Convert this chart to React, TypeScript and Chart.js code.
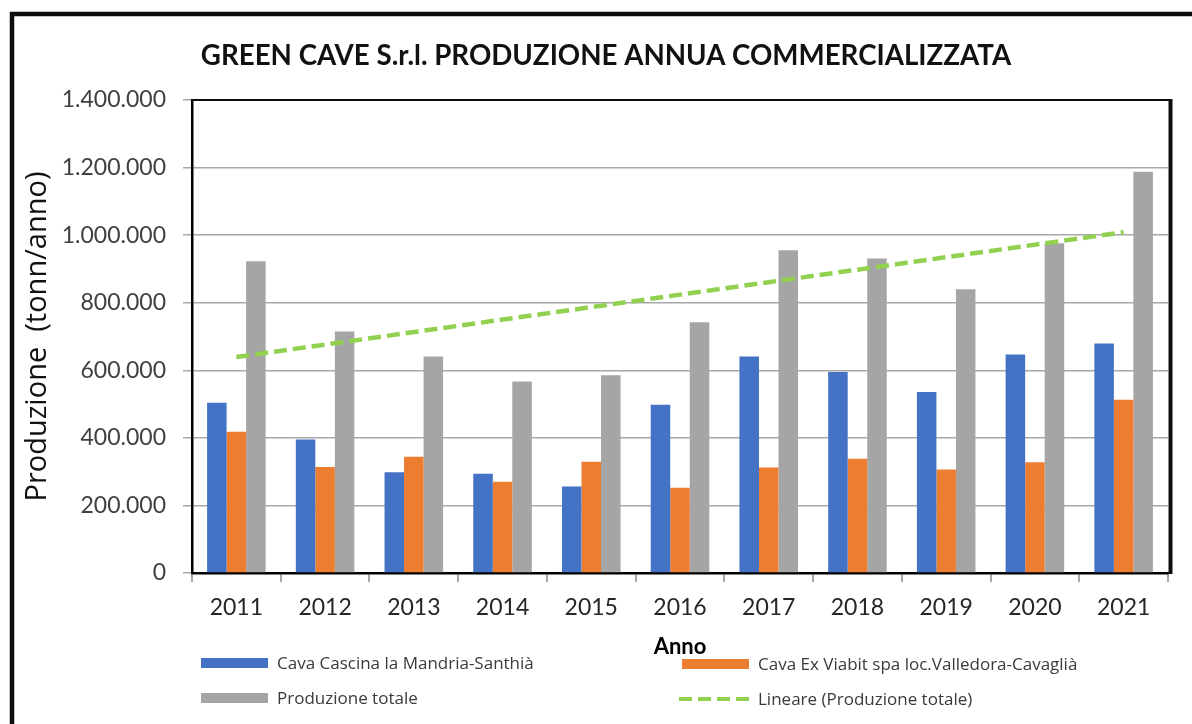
import { useEffect, useRef } from 'react';
import { Chart, registerables } from 'chart.js';

Chart.register(...registerables);

const chartTitle = 'GREEN CAVE S.r.l. PRODUZIONE ANNUA COMMERCIALIZZATA';
const years = ['2011', '2012', '2013', '2014', '2015', '2016', '2017', '2018', '2019', '2020', '2021'];
const seriesNames = [
  'Cava Cascina la Mandria-Santhià',
  'Cava Ex Viabit spa loc.Valledora-Cavaglià',
  'Produzione totale',
  'Lineare (Produzione totale)',
];
const mandria = [504000, 395000, 298000, 294000, 256000, 498000, 641000, 595000, 536000, 647000, 679000];
const viabit = [418000, 314000, 344000, 270000, 329000, 252000, 312000, 338000, 306000, 328000, 513000];
const totale = [923000, 715000, 641000, 567000, 585000, 742000, 955000, 931000, 840000, 976000, 1188000];
const yMin = 0;
const yMax = 1400000;
const yStep = 200000;

const colors = ['#4472C4', '#ED7D31', '#A5A5A5', '#92D050'];

function linearTrend(values: number[]): number[] {
  const n = values.length;
  const mx = (n - 1) / 2;
  const my = values.reduce((a, b) => a + b, 0) / n;
  let num = 0;
  let den = 0;
  values.forEach((v, i) => {
    num += (i - mx) * (v - my);
    den += (i - mx) * (i - mx);
  });
  const slope = num / den;
  return values.map((_, i) => my + slope * (i - mx));
}

function fmt(v: number | string): string {
  const n = Math.round(Number(v));
  return String(n).replace(/\B(?=(\d{3})+(?!\d))/g, '.');
}

const FONT = 'Lato';
const FONT2 = '"Open Sans"';

const decor = {
  id: 'decor',
  beforeDraw(chart: any) {
    const { ctx, width, height } = chart;
    ctx.save();
    ctx.fillStyle = '#ffffff';
    ctx.fillRect(0, 0, width, height);
    ctx.restore();
  },
  afterDraw(chart: any) {
    const { ctx, chartArea } = chart;
    ctx.save();
    // outer frame (top and left visible)
    ctx.strokeStyle = '#0d0d0d';
    ctx.lineWidth = 4.5;
    ctx.beginPath();
    ctx.moveTo(12, 740);
    ctx.lineTo(12, 14);
    ctx.lineTo(1200, 14);
    ctx.stroke();
    // plot area border top / right
    ctx.lineWidth = 2;
    ctx.beginPath();
    ctx.moveTo(chartArea.left, chartArea.top);
    ctx.lineTo(chartArea.right + 3, chartArea.top);
    ctx.stroke();
    ctx.lineWidth = 4;
    ctx.beginPath();
    ctx.moveTo(chartArea.right + 2.5, chartArea.top - 1);
    ctx.lineTo(chartArea.right + 2.5, chartArea.bottom + 1);
    ctx.stroke();
    // title
    ctx.fillStyle = '#111111';
    ctx.font = `bold 27.7px ${FONT}`;
    ctx.textAlign = 'center';
    ctx.textBaseline = 'middle';
    ctx.fillText(chartTitle, 606, 56);
    // legend
    const items = [
      { x: 201, y: 663, tx: 277, kind: 'box' },
      { x: 682, y: 664, tx: 758, kind: 'box' },
      { x: 201, y: 698, tx: 277, kind: 'box' },
      { x: 679, y: 699, tx: 758, kind: 'dash' },
    ];
    ctx.font = `17px ${FONT2}`;
    ctx.textAlign = 'left';
    items.forEach((it, i) => {
      const ds = chart.data.datasets[i];
      if (it.kind === 'box') {
        ctx.fillStyle = ds.backgroundColor;
        ctx.fillRect(it.x, it.y - 5, 67, 10);
      } else {
        ctx.strokeStyle = ds.borderColor;
        ctx.lineWidth = 4;
        ctx.setLineDash([13, 6]);
        ctx.beginPath();
        ctx.moveTo(it.x, it.y);
        ctx.lineTo(it.x + 72, it.y);
        ctx.stroke();
        ctx.setLineDash([]);
      }
      ctx.fillStyle = '#3a3a3a';
      ctx.fillText(seriesNames[i], it.tx, it.y + 1);
    });
    ctx.restore();
  },
};

export default function App() {
  const ref = useRef<HTMLCanvasElement | null>(null);

  useEffect(() => {
    if (!ref.current) return;
    const chart = new Chart(ref.current, {
      type: 'bar',
      data: {
        labels: years,
        datasets: [
          { type: 'bar', label: seriesNames[0], data: mandria, backgroundColor: colors[0], order: 1 },
          { type: 'bar', label: seriesNames[1], data: viabit, backgroundColor: colors[1], order: 1 },
          { type: 'bar', label: seriesNames[2], data: totale, backgroundColor: colors[2], order: 1 },
          {
            type: 'line',
            label: seriesNames[3],
            data: linearTrend(totale),
            borderColor: colors[3],
            backgroundColor: colors[3],
            borderWidth: 4.5,
            borderDash: [13, 6],
            pointRadius: 0,
            fill: false,
            order: 0,
          },
        ] as any,
      },
      options: {
        animation: false,
        responsive: false,
        maintainAspectRatio: false,
        layout: { padding: { top: 100, left: 14, right: 24, bottom: 56 } },
        datasets: { bar: { categoryPercentage: 0.66, barPercentage: 1, borderWidth: 0 } } as any,
        plugins: {
          legend: { display: false },
          title: { display: false },
          tooltip: { enabled: false },
        },
        scales: {
          x: {
            ticks: { font: { family: FONT, size: 23 }, color: '#262626', padding: 12 },
            grid: { offset: true, drawOnChartArea: false, drawTicks: true, tickLength: 9, color: '#a8a8a8', lineWidth: 2 },
            border: { display: true, color: '#000000', width: 2.5 },
            title: {
              display: true,
              text: 'Anno',
              font: { family: FONT, size: 22, weight: 'bold' },
              color: '#000000',
              padding: { top: 0, bottom: 8 },
            },
            afterFit: (s: any) => {
              s.height = 95;
            },
          },
          y: {
            min: yMin,
            max: yMax,
            ticks: { stepSize: yStep, callback: (v: any) => fmt(v), font: { family: FONT, size: 23 }, color: '#404040', padding: 17 },
            grid: { color: '#a8a8a8', lineWidth: 1.5, tickLength: 9, drawTicks: true },
            border: { display: true, color: '#000000', width: 2.5 },
            title: {
              display: true,
              text: 'Produzione  (tonn/anno)',
              font: { family: FONT2, size: 29 },
              color: '#111111',
              padding: { top: 6, bottom: 0 },
            },
            afterFit: (s: any) => {
              s.width = 178;
            },
          },
        } as any,
      },
      plugins: [decor],
    });
    return () => chart.destroy();
  }, []);

  return (
    <div style={{ position: 'fixed', left: 0, top: 0, width: 1192, height: 724, overflow: 'hidden', background: '#fff' }}>
      <canvas ref={ref} width={1192} height={724} style={{ display: 'block', width: 1192, height: 724 }} />
    </div>
  );
}
